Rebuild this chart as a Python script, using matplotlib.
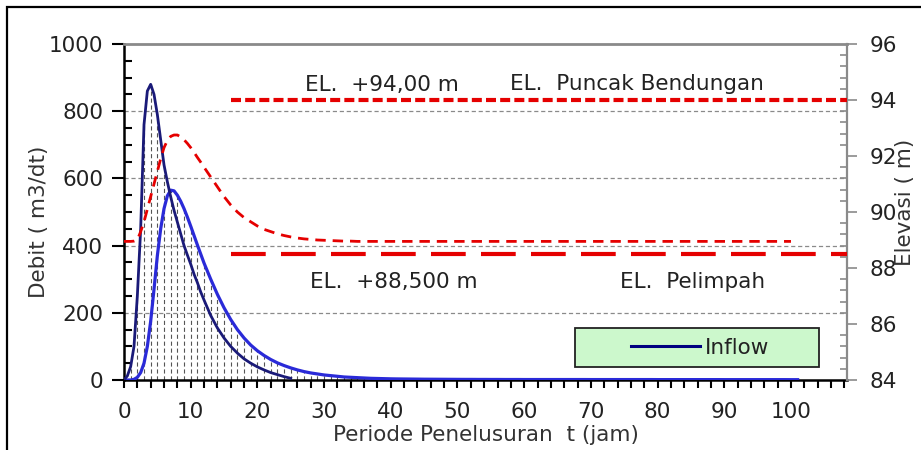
import matplotlib
matplotlib.use("Agg")
import matplotlib.pyplot as plt
from matplotlib.ticker import MultipleLocator
from matplotlib.patches import Rectangle

plt.rcParams['font.family'] = ['DejaVu Sans']
plt.rcParams['lines.scale_dashes'] = False

# ---------------- data ----------------
time_fine = [0, 0.5, 1, 1.5, 2, 2.5, 3, 3.5, 4, 4.5, 5, 5.5, 6, 6.5, 7, 7.5,
             8, 8.5, 9, 9.5, 10, 10.5, 11, 11.5, 12]
time_hourly = list(range(13, 102))
time = time_fine + time_hourly

inflow = [0, 12, 40, 100, 250, 450, 760, 860, 880, 850, 790, 715, 640, 590, 545, 505,
          470, 435, 400, 372, 345, 315, 290, 262, 238,
          192, 155, 125, 100, 80, 63, 50, 39, 30, 22, 16, 10, 5]

outflow = [0, 0, 0, 2, 8, 22, 50, 100, 175, 270, 370, 450, 510, 548, 565, 563,
           550, 532, 510, 485, 458, 430, 402, 375, 348,
           300, 255, 215, 180, 150, 125, 104,
           87, 73, 61, 51, 43, 36, 30, 25, 21, 18,
           15, 13, 11, 9, 8, 7, 6, 5, 4.5, 4,
           3.5, 3.2, 3.0, 2.8, 2.6, 2.4, 2.3, 2.2, 2.1, 2.0,
           1.9, 1.8, 1.8, 1.7, 1.7, 1.6, 1.6, 1.5, 1.5, 1.5,
           1.4, 1.4, 1.4, 1.4, 1.4, 1.4, 1.4, 1.4, 1.4, 1.4,
           1.3, 1.3, 1.3, 1.3, 1.3, 1.3, 1.3, 1.3, 1.3, 1.3,
           1.2, 1.2, 1.2, 1.2, 1.2, 1.2, 1.2, 1.2, 1.2, 1.2,
           1.1, 1.1, 1.1, 1.1, 1.1, 1.1, 1.1, 1.1, 1.1, 1.1,
           1.0, 1.0]

elevation = [88.95, 88.95, 88.95, 88.96, 89.00, 89.30, 89.65, 90.10, 90.55, 91.00,
             91.45, 91.90, 92.30, 92.55, 92.70, 92.75, 92.75, 92.68, 92.58, 92.45,
             92.30, 92.13, 91.95, 91.78, 91.60,
             91.25, 90.90, 90.55, 90.25, 90.00, 89.80, 89.65,
             89.50, 89.38, 89.30, 89.22, 89.16, 89.11, 89.07, 89.04, 89.02, 89.00,
             88.99, 88.98, 88.97, 88.96, 88.96, 88.95, 88.95, 88.95, 88.95, 88.95,
             88.95, 88.95, 88.95, 88.95, 88.95, 88.95, 88.95, 88.95, 88.95, 88.95,
             88.95, 88.95, 88.95, 88.95, 88.95, 88.95, 88.95, 88.95, 88.95, 88.95,
             88.95, 88.95, 88.95, 88.95, 88.95, 88.95, 88.95, 88.95, 88.95, 88.95,
             88.95, 88.95, 88.95, 88.95, 88.95, 88.95, 88.95, 88.95, 88.95, 88.95,
             88.95, 88.95, 88.95, 88.95, 88.95, 88.95, 88.95, 88.95, 88.95, 88.95,
             88.95, 88.95, 88.95, 88.95, 88.95, 88.95, 88.95, 88.95, 88.95, 88.95,
             88.95]

ref_t = [16, 108.4]
el_puncak = [94.0, 94.0]
el_pelimpah = [88.5, 88.5]

x_max = 108.4
x_ticks = [0, 10, 20, 30, 40, 50, 60, 70, 80, 90, 100]
q_ticks = [0, 200, 400, 600, 800, 1000]
el_ticks = [84, 86, 88, 90, 92, 94, 96]

# ---------------- figure ----------------
FS = 15.5
fig = plt.figure(figsize=(9.21, 4.5), dpi=100)
fig.patch.set_facecolor('white')
ax = fig.add_axes([124/921, 1-380/450, 723/921, 336/450])
ax.set_xlim(0, x_max)
ax.set_ylim(0, 1000)

# outer frame (left and top edges visible)
fig.add_artist(Rectangle((7/921, -0.2), 1.5, 1.2 - 7/450, transform=fig.transFigure,
                         fill=False, ec='black', lw=1.6))

# grid lines
for q in q_ticks[1:-1]:
    ax.axhline(q, color='#8a8a8a', lw=0.9, dashes=(3, 2), zorder=1)

# drop lines at each whole hour, up to the higher of the two hydrographs
drop_t, drop_v = [], []
for i, t in enumerate(time):
    if float(t).is_integer():
        v = outflow[i]
        if i < len(inflow):
            v = max(v, inflow[i])
        if v > 2:
            drop_t.append(t)
            drop_v.append(v)
ax.vlines(drop_t, 0, drop_v, colors='#555555', lw=0.8, linestyles=(0, (3, 2)), zorder=2)

# hydrographs
ax.plot(time, outflow, color='#2a2ad8', lw=2.3, zorder=4)
ax.plot(time[:len(inflow)], inflow, color='#1a1a78', lw=2.0, zorder=5, label='Inflow')

# spines
for s in ['left', 'bottom']:
    ax.spines[s].set_color('black')
    ax.spines[s].set_linewidth(1.8)
ax.spines['top'].set_color('#8a8a8a')
ax.spines['top'].set_linewidth(2.0)
ax.spines['right'].set_visible(False)

ax.yaxis.set_ticks(q_ticks)
ax.yaxis.set_minor_locator(MultipleLocator(50))
ax.tick_params(axis='y', which='major', direction='out', length=9, width=1.5,
               color='black', labelsize=FS, pad=6, labelcolor='#222222')
ax.tick_params(axis='y', which='minor', direction='in', length=6, width=1.5, color='black')
ax.set_xticks(x_ticks)
ax.xaxis.set_minor_locator(MultipleLocator(2))
ax.tick_params(axis='x', which='both', direction='out', length=6, width=1.5,
               color='black', labelsize=FS, pad=10, labelcolor='#222222')

ax.set_xlabel('Periode Penelusuran  t (jam)', fontsize=FS, color='#333333', labelpad=2)
ax.set_ylabel('Debit ( m3/dt)', fontsize=FS, color='#333333')
ax.yaxis.set_label_coords(-0.104, 0.47)

# annotations
ax.text(27.1, 878, 'EL.  +94,00 m', fontsize=FS, color='#222222', va='center', ha='left', zorder=6)
ax.text(57.9, 881, 'EL.  Puncak Bendungan', fontsize=FS, color='#222222', va='center', ha='left', zorder=6)
ax.text(27.9, 292, 'EL.  +88,500 m', fontsize=FS, color='#222222', va='center', ha='left', zorder=6)
ax.text(74.4, 292, 'EL.  Pelimpah', fontsize=FS, color='#222222', va='center', ha='left', zorder=6)

# legend box
ax.add_patch(Rectangle((0.624, 0.0387), 0.337, 0.116, transform=ax.transAxes,
                       facecolor='#ccf8cc', edgecolor='#222222', lw=1.3, zorder=7))
leg = ax.legend(loc='center', bbox_to_anchor=(0.797, 0.0967), frameon=False,
                fontsize=FS, handlelength=3.2, handletextpad=0.25, borderpad=0, borderaxespad=0)
leg.set_zorder(8)
for line in leg.get_lines():
    line.set_color('#000080')
    line.set_linewidth(2.2)
for txt in leg.get_texts():
    txt.set_color('#222222')

# right axis: elevation
ax2 = ax.twinx()
ax2.set_ylim(84, 96)
ax2.set_xlim(0, x_max)
ax2.patch.set_visible(False)
for s in ['left', 'bottom', 'top']:
    ax2.spines[s].set_visible(False)
ax2.spines['right'].set_color('#8a8a8a')
ax2.spines['right'].set_linewidth(1.6)
ax2.yaxis.set_ticks(el_ticks)
ax2.yaxis.set_minor_locator(MultipleLocator(0.4))
ax2.tick_params(axis='y', which='major', direction='out', length=7, width=1.2,
                color='#8a8a8a', labelsize=FS, pad=9, labelcolor='#222222')
ax2.tick_params(axis='y', which='minor', direction='in', length=5, width=1.2, color='#8a8a8a')
ax2.set_ylabel('Elevasi ( m)', fontsize=FS, color='#333333')
ax2.yaxis.set_label_coords(1.067, 0.53)

red = '#e50000'
n_el = time.index(100) + 1
ax2.plot(time[:n_el], elevation[:n_el], color=red, lw=2.0, dashes=(7.5, 5), zorder=5)
ax2.plot(ref_t, el_puncak, color=red, lw=3.0, dashes=(7.2, 3.0), zorder=5)
ax2.plot(ref_t, el_pelimpah, color=red, lw=3.0, dashes=(25, 11), zorder=5)

fig.savefig('out.png', dpi=100, facecolor='white')
